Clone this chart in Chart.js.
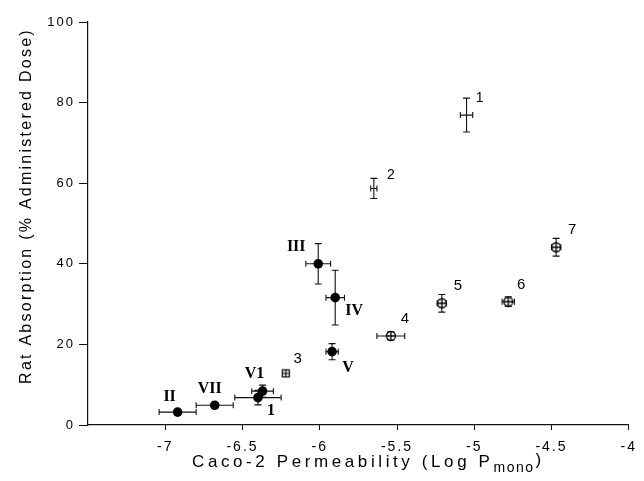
<!DOCTYPE html>
<html>
<head>
<meta charset="utf-8">
<script src="https://cdn.jsdelivr.net/npm/chart.js@4.4.0/dist/chart.umd.min.js"></script>
<style>
  html, body { margin: 0; padding: 0; background: #fff; }
  #wrap { width: 644px; height: 481px; position: relative; }
</style>
</head>
<body>
<div id="wrap"><canvas id="myChart"></canvas></div>
<script>
// filled circles, roman numerals
const romanLabels = ['II', 'VII', '1', 'V1', 'V', 'III', 'IV'];
const romanLogP = [-6.92, -6.68, -6.40, -6.37, -5.92, -6.01, -5.90];
const romanAbs = [3.2, 4.9, 6.8, 8.4, 18.2, 40.0, 31.6];
const romanLogPErr = [0.12, 0.12, 0.15, 0.07, 0.04, 0.08, 0.06];
const romanAbsErr = [0, 0, 1.8, 1.5, 2.0, 5.0, 6.8];

// open circles with cross
const openLabels = ['4', '5', '6', '7'];
const openLogP = [-5.54, -5.21, -4.78, -4.47];
const openAbs = [22.1, 30.2, 30.6, 44.1];
const openLogPErr = [0.09, 0.03, 0.04, 0.03];
const openAbsErr = [1.0, 2.2, 1.2, 2.2];

// square with cross
const squareLabels = ['3'];
const squareLogP = [-6.22];
const squareAbs = [12.8];

// plus only (error bars)
const plusLabels = ['1', '2'];
const plusLogP = [-5.05, -5.65];
const plusAbs = [76.9, 58.7];
const plusLogPErr = [0.04, 0.02];
const plusAbsErr = [4.2, 2.5];

const xTicks = [-7, -6.5, -6, -5.5, -5, -4.5, -4];
const yTicks = [0, 20, 40, 60, 80, 100];

const yTitle = 'Rat Absorption (% Administered Dose)';
const xTitle = 'Caco-2 Permeability (Log P';
const xTitleSub = 'mono';

// label offsets in px from the marker
const romanOffsets = [[-8, -15], [-5, -16], [13, 13], [-8, -17], [16, 16], [-22, -17], [19, 13]];
const openOffsets = [[14, -17], [16, -17], [13, -17], [16, -17]];
const squareOffsets = [[12, -15]];
const plusOffsets = [[13, -17], [17, -13]];

const SANS = '"Liberation Sans", Arial, sans-serif';
const SERIF = '"Liberation Serif", "Times New Roman", serif';

function ringCross() {
  const c = document.createElement('canvas');
  c.width = c.height = 12;
  const g = c.getContext('2d');
  g.strokeStyle = '#000';
  g.lineWidth = 1.3;
  g.fillStyle = '#fff';
  g.beginPath();
  g.arc(6, 6, 4.5, 0, 2 * Math.PI);
  g.fill();
  g.stroke();
  g.beginPath();
  g.moveTo(6, 1.5); g.lineTo(6, 10.5);
  g.moveTo(1.5, 6); g.lineTo(10.5, 6);
  g.stroke();
  return c;
}

function squareCross() {
  const c = document.createElement('canvas');
  c.width = c.height = 10;
  const g = c.getContext('2d');
  g.strokeStyle = '#000';
  g.lineWidth = 1.2;
  g.fillStyle = '#fff';
  g.fillRect(1, 1, 8, 8);
  g.strokeRect(1.5, 1.5, 7, 7);
  g.beginPath();
  g.moveTo(5, 1.5); g.lineTo(5, 8.5);
  g.moveTo(1.5, 5); g.lineTo(8.5, 5);
  g.stroke();
  return c;
}

function pts(xs, ys) {
  return xs.map((v, i) => ({ x: v, y: ys[i] }));
}

const errorBars = {
  id: 'errorBars',
  beforeDatasetsDraw(chart) {
    const { ctx, scales: { x, y } } = chart;
    ctx.save();
    ctx.strokeStyle = '#111';
    ctx.lineWidth = 1.1;
    chart.data.datasets.forEach(ds => {
      if (!ds.xErr && !ds.yErr) return;
      ds.data.forEach((p, i) => {
        const px = x.getPixelForValue(p.x);
        const py = y.getPixelForValue(p.y);
        const dx = ds.xErr ? ds.xErr[i] : 0;
        const dy = ds.yErr ? ds.yErr[i] : 0;
        ctx.beginPath();
        if (dx) {
          const l = x.getPixelForValue(p.x - dx);
          const r = x.getPixelForValue(p.x + dx);
          ctx.moveTo(l, py); ctx.lineTo(r, py);
          ctx.moveTo(l, py - 3); ctx.lineTo(l, py + 3);
          ctx.moveTo(r, py - 3); ctx.lineTo(r, py + 3);
        }
        if (dy) {
          const t = y.getPixelForValue(p.y + dy);
          const b = y.getPixelForValue(p.y - dy);
          ctx.moveTo(px, t); ctx.lineTo(px, b);
          ctx.moveTo(px - 3.5, t); ctx.lineTo(px + 3.5, t);
          ctx.moveTo(px - 3.5, b); ctx.lineTo(px + 3.5, b);
        }
        ctx.stroke();
      });
    });
    ctx.restore();
  }
};

const pointLabels = {
  id: 'pointLabels',
  afterDatasetsDraw(chart) {
    const ctx = chart.ctx;
    ctx.save();
    ctx.fillStyle = '#000';
    ctx.textAlign = 'center';
    ctx.textBaseline = 'middle';
    chart.data.datasets.forEach((ds, di) => {
      const meta = chart.getDatasetMeta(di);
      ctx.font = ds.labelFont;
      ctx.letterSpacing = '0px';
      meta.data.forEach((el, i) => {
        const off = ds.offsets[i];
        ctx.fillText(ds.names[i], el.x + off[0], el.y + off[1]);
      });
    });
    ctx.restore();
  }
};

const titles = {
  id: 'titles',
  beforeDraw(chart) {
    chart.ctx.letterSpacing = '2px';
  },
  afterDraw(chart) {
    const ctx = chart.ctx;
    ctx.save();
    ctx.fillStyle = '#000';
    // y title
    ctx.letterSpacing = '2.25px';
    ctx.font = '16px ' + SANS;
    ctx.textAlign = 'center';
    ctx.textBaseline = 'middle';
    ctx.translate(27, 206);
    ctx.rotate(-Math.PI / 2);
    ctx.fillText(yTitle, 0, 0);
    ctx.setTransform(1, 0, 0, 1, 0, 0);
    // x title with subscript
    ctx.font = '17px ' + SANS;
    ctx.letterSpacing = '3.6px';
    ctx.textAlign = 'left';
    ctx.textBaseline = 'alphabetic';
    let xPos = 192;
    const base = 467;
    ctx.fillText(xTitle, xPos, base);
    xPos += ctx.measureText(xTitle).width;
    ctx.font = '14px ' + SANS;
    ctx.letterSpacing = '1.5px';
    ctx.fillText(xTitleSub, xPos, base + 5);
    xPos += ctx.measureText(xTitleSub).width + 1;
    ctx.font = '17px ' + SANS;
    ctx.fillText(')', xPos, base - 2);
    ctx.restore();
    ctx.letterSpacing = '0px';
  }
};

const ctx = document.getElementById('myChart').getContext('2d');

new Chart(ctx, {
  type: 'scatter',
  data: {
    datasets: [
      {
        label: 'Roman',
        data: pts(romanLogP, romanAbs),
        xErr: romanLogPErr,
        yErr: romanAbsErr,
        names: romanLabels,
        offsets: romanOffsets,
        labelFont: 'bold 16px ' + SERIF,
        pointStyle: 'circle',
        pointRadius: 4.8,
        backgroundColor: '#000',
        borderColor: '#000',
        borderWidth: 0
      },
      {
        label: 'Open',
        data: pts(openLogP, openAbs),
        xErr: openLogPErr,
        yErr: openAbsErr,
        names: openLabels,
        offsets: openOffsets,
        labelFont: '15px ' + SANS,
        pointStyle: ringCross(),
        pointRadius: 5
      },
      {
        label: 'Square',
        data: pts(squareLogP, squareAbs),
        names: squareLabels,
        offsets: squareOffsets,
        labelFont: '15px ' + SANS,
        pointStyle: squareCross(),
        pointRadius: 4
      },
      {
        label: 'Plus',
        data: pts(plusLogP, plusAbs),
        xErr: plusLogPErr,
        yErr: plusAbsErr,
        names: plusLabels,
        offsets: plusOffsets,
        labelFont: '14px ' + SANS,
        pointRadius: 0
      }
    ]
  },
  options: {
    responsive: true,
    maintainAspectRatio: false,
    animation: false,
    layout: {
      padding: { top: 22, right: 8, left: 0, bottom: 0 }
    },
    scales: {
      x: {
        type: 'linear',
        min: -7.5,
        max: -4,
        afterBuildTicks: s => { s.ticks = xTicks.map(v => ({ value: v })); },
        afterFit: s => { s.height = 56; },
        ticks: {
          color: '#000',
          font: { size: 14, family: SANS },
          padding: 9,
          maxRotation: 0,
          autoSkip: false,
          callback: v => String(v)
        },
        grid: { drawOnChartArea: false, drawTicks: true, tickLength: 5, color: '#111' },
        border: { color: '#111', width: 1.2 }
      },
      y: {
        min: 0,
        max: 100,
        afterBuildTicks: s => { s.ticks = yTicks.map(v => ({ value: v })); },
        afterFit: s => { s.width = 88; },
        ticks: {
          color: '#000',
          font: { size: 13, family: SANS },
          padding: 4,
          callback: v => String(v)
        },
        grid: { drawOnChartArea: false, drawTicks: true, tickLength: 9, color: '#111' },
        border: { color: '#111', width: 1.2 }
      }
    },
    plugins: {
      legend: { display: false },
      tooltip: { enabled: false }
    }
  },
  plugins: [titles, errorBars, pointLabels]
});
</script>
</body>
</html>
